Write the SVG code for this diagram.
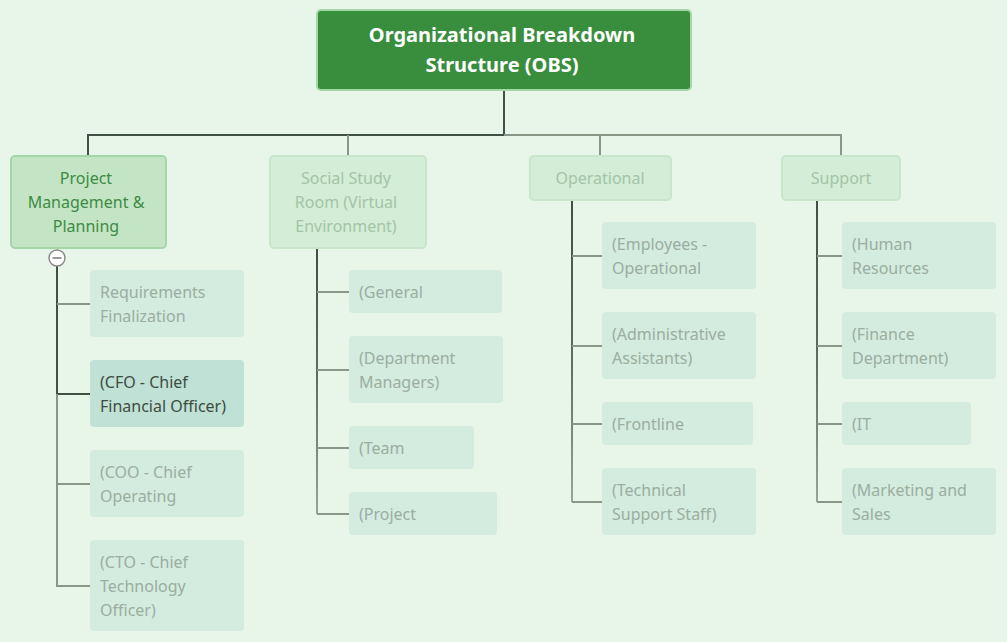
<svg xmlns="http://www.w3.org/2000/svg" width="1007" height="642" viewBox="0 0 1007 642">
<defs>
<style>
.bg{fill:#e8f5e9}
.root{fill:#388e3c;stroke:#a5d6a7;stroke-width:2}
.l1a{fill:#c3e5c5;stroke:#a5d6a7;stroke-width:2}
.l1f{fill:#d4edd6;stroke:#c8e6ca;stroke-width:2}
.leaf{fill:#d4ebdf}
.leafsel{fill:#c0e1d6}
text{font-family:"Noto Sans","Open Sans","DejaVu Sans",sans-serif;font-size:16px}
.rt{fill:#ffffff;font-size:20px;font-weight:bold;text-anchor:middle}
.ta{fill:#3f8a43;text-anchor:middle}
.tf{fill:#a3c4a6;text-anchor:middle}
.lt{fill:#9bae9f}
.ls{fill:#3c4d40}
.cd{fill:none;stroke:#3f5142;stroke-width:2}
.cl{fill:none;stroke:#879887;stroke-width:2}
</style>
<linearGradient id="g2" x1="0" y1="248" x2="0" y2="514" gradientUnits="userSpaceOnUse">
<stop offset="0" stop-color="#3f5142"/><stop offset="0.5" stop-color="#5d6f60"/><stop offset="1" stop-color="#95a597"/>
</linearGradient>
<linearGradient id="g3" x1="0" y1="200" x2="0" y2="502" gradientUnits="userSpaceOnUse">
<stop offset="0" stop-color="#3f5142"/><stop offset="0.55" stop-color="#5d6f60"/><stop offset="1" stop-color="#95a597"/>
</linearGradient>
</defs>
<rect class="bg" x="0" y="0" width="1007" height="642"/>

<g id="connectors">
<path class="cd" d="M504 90V135H88V156"/>
<path class="cl" d="M504 135H841V156"/>
<path class="cl" d="M348 135V156"/>
<path class="cl" d="M600 135V156"/>
<path class="cd" d="M57 266V394H90"/>
<path class="cl" d="M57 394V586H90"/>
<path class="cl" d="M57 304H90"/>
<path class="cl" d="M57 484H90"/>
<path fill="none" stroke="url(#g2)" stroke-width="2" d="M317 248V514"/>
<path class="cl" d="M317 292H349M317 370H349M317 448H349M317 514H349"/>
<path fill="none" stroke="url(#g3)" stroke-width="2" d="M572 200V502"/>
<path class="cl" d="M572 256H602M572 346H602M572 424H602M572 502H602"/>
<path fill="none" stroke="url(#g3)" stroke-width="2" d="M817 200V502"/>
<path class="cl" d="M817 256H842M817 346H842M817 424H842M817 502H842"/>
</g>

<g id="root">
<rect class="root" x="317" y="10" width="374" height="80" rx="4"/>
<text class="rt" x="502" y="42">Organizational Breakdown</text>
<text class="rt" x="502" y="72">Structure (OBS)</text>
</g>

<g id="pmp">
<rect class="l1a" x="11" y="156" width="155" height="92" rx="4"/>
<text class="ta" x="86" y="184">Project</text>
<text class="ta" x="86" y="208">Management &amp;</text>
<text class="ta" x="86" y="232">Planning</text>
</g>
<g id="collapse">
<circle cx="57" cy="258" r="8" fill="#ffffff" stroke="#8a8a8a" stroke-width="1.5"/>
<path d="M52.5 258H61.5" stroke="#777777" stroke-width="1.5"/>
</g>
<g id="ssr">
<rect class="l1f" x="270" y="156" width="156" height="92" rx="4"/>
<text class="tf" x="346" y="184">Social Study</text>
<text class="tf" x="346" y="208">Room (Virtual</text>
<text class="tf" x="346" y="232">Environment)</text>
</g>
<g id="operational">
<rect class="l1f" x="530" y="156" width="141" height="44" rx="4"/>
<text class="tf" x="600" y="184">Operational</text>
</g>
<g id="support">
<rect class="l1f" x="782" y="156" width="118" height="44" rx="4"/>
<text class="tf" x="841" y="184">Support</text>
</g>

<g id="req">
<rect class="leaf" x="90" y="270" width="154" height="67" rx="4"/>
<text class="lt" x="100" y="298">Requirements</text>
<text class="lt" x="100" y="322">Finalization</text>
</g>
<g id="cfo">
<rect class="leafsel" x="90" y="360" width="154" height="67" rx="4"/>
<text class="ls" x="100" y="388">(CFO - Chief</text>
<text class="ls" x="100" y="412">Financial Officer)</text>
</g>
<g id="coo">
<rect class="leaf" x="90" y="450" width="154" height="67" rx="4"/>
<text class="lt" x="100" y="478">(COO - Chief</text>
<text class="lt" x="100" y="502">Operating</text>
</g>
<g id="cto">
<rect class="leaf" x="90" y="540" width="154" height="91" rx="4"/>
<text class="lt" x="100" y="568">(CTO - Chief</text>
<text class="lt" x="100" y="592">Technology</text>
<text class="lt" x="100" y="616">Officer)</text>
</g>

<g id="general">
<rect class="leaf" x="349" y="270" width="153" height="43" rx="4"/>
<text class="lt" x="359" y="298">(General</text>
</g>
<g id="deptmgr">
<rect class="leaf" x="349" y="336" width="154" height="67" rx="4"/>
<text class="lt" x="359" y="364">(Department</text>
<text class="lt" x="359" y="388">Managers)</text>
</g>
<g id="team">
<rect class="leaf" x="349" y="426" width="125" height="43" rx="4"/>
<text class="lt" x="359" y="454">(Team</text>
</g>
<g id="project">
<rect class="leaf" x="349" y="492" width="148" height="43" rx="4"/>
<text class="lt" x="359" y="520">(Project</text>
</g>

<g id="employees">
<rect class="leaf" x="602" y="222" width="154" height="67" rx="4"/>
<text class="lt" x="612" y="250">(Employees -</text>
<text class="lt" x="612" y="274">Operational</text>
</g>
<g id="admin">
<rect class="leaf" x="602" y="312" width="154" height="67" rx="4"/>
<text class="lt" x="612" y="340">(Administrative</text>
<text class="lt" x="612" y="364">Assistants)</text>
</g>
<g id="frontline">
<rect class="leaf" x="602" y="402" width="151" height="43" rx="4"/>
<text class="lt" x="612" y="430">(Frontline</text>
</g>
<g id="techsupport">
<rect class="leaf" x="602" y="468" width="154" height="67" rx="4"/>
<text class="lt" x="612" y="496">(Technical</text>
<text class="lt" x="612" y="520">Support Staff)</text>
</g>

<g id="hr">
<rect class="leaf" x="842" y="222" width="154" height="67" rx="4"/>
<text class="lt" x="852" y="250">(Human</text>
<text class="lt" x="852" y="274">Resources</text>
</g>
<g id="finance">
<rect class="leaf" x="842" y="312" width="154" height="67" rx="4"/>
<text class="lt" x="852" y="340">(Finance</text>
<text class="lt" x="852" y="364">Department)</text>
</g>
<g id="it">
<rect class="leaf" x="842" y="402" width="129" height="43" rx="4"/>
<text class="lt" x="852" y="430">(IT</text>
</g>
<g id="marketing">
<rect class="leaf" x="842" y="468" width="154" height="67" rx="4"/>
<text class="lt" x="852" y="496">(Marketing and</text>
<text class="lt" x="852" y="520">Sales</text>
</g>
</svg>
